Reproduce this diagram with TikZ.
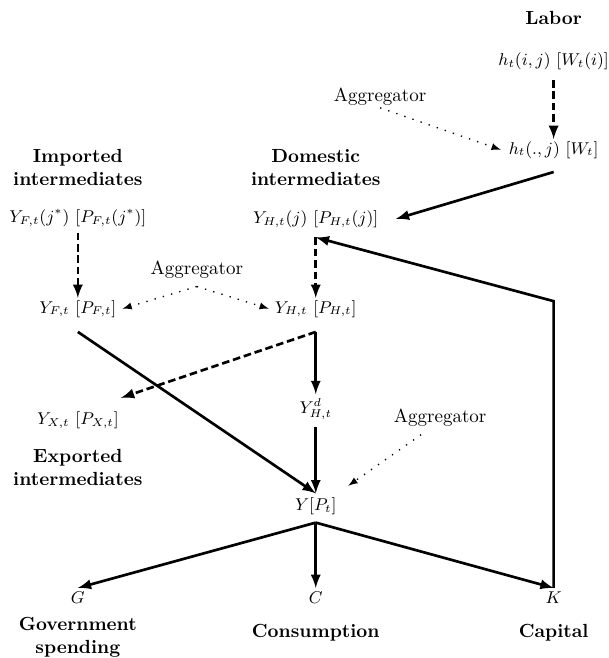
\documentclass[tikz,border=0pt]{standalone}
\begin{document}
\begin{tikzpicture}[>=latex,
  lbl/.style={inner sep=1pt},
  var/.style={inner sep=1pt, font=\small},
  ttl/.style={font=\bfseries, align=center},
  flow/.style={->, line width=1.4pt},
  dflow/.style={->, line width=1.4pt, dash pattern=on 4pt off 2pt},
  agg/.style={->, line width=0.7pt, dash pattern=on 0.7pt off 3.8pt}]
\useasboundingbox (-1.44,-1.11) rectangle (9.81,11.06);
\pgfmathsetmacro{\colm}{4.4}
\pgfmathsetmacro{\colr}{8.8}
\node[ttl] (labor) at (\colr,10.73) {Labor};
\node[var] (hij) at (\colr,9.92) {$h_t(i,j)\ [W_t(i)]$};
\node[var] (hj) at (\colr,8.29) {$h_t(.,j)\ [W_t]$};
\node[lbl] (agga) at (5.59,9.27) {Aggregator};
\node[ttl] (imp) at (0,7.96) {Imported\\intermediates};
\node[ttl] (dom) at (\colm,7.96) {Domestic\\intermediates};
\node[var] (yfj) at (0,7.03) {$Y_{F,t}(j^*)\ [P_{F,t}(j^*)]$};
\node[var] (yhj) at (\colm,7.01) {$Y_{H,t}(j)\ [P_{H,t}(j)]$};
\node[lbl] (aggb) at (2.20,6.07) {Aggregator};
\node[var] (yf) at (0,5.35) {$Y_{F,t}\ [P_{F,t}]$};
\node[var] (yh) at (\colm,5.35) {$Y_{H,t}\ [P_{H,t}]$};
\coordinate (kturn) at (\colr,5.49);
\node[var] (yd) at (\colm,3.50) {$Y^d_{H,t}$};
\node[var] (yx) at (0,3.29) {$Y_{X,t}\ [P_{X,t}]$};
\node[lbl] (aggc) at (6.70,3.33) {Aggregator};
\node[ttl] (exp) at (0,2.42) {Exported\\intermediates};
\node[var] (y) at (\colm,1.70) {$Y[P_t]$};
\node[var] (g) at (0,0) {$G$};
\node[var] (c) at (\colm,0) {$C$};
\node[var] (k) at (\colr,0) {$K$};
\node[ttl] (gov) at (0,-0.73) {Government\\spending};
\node[ttl] (cons) at (\colm,-0.65) {Consumption};
\node[ttl] (cap) at (\colr,-0.65) {Capital};
\draw [dflow] ([yshift=-4pt]hij.south) -- (hj.north);
\draw [agg] (agga.south) -- ([xshift=-3pt]hj.west);
\draw [flow] ([yshift=-6pt]hj.south) -- ([xshift=8pt]yhj.east);
\draw [dflow] ([yshift=-2pt]yfj.south) -- (yf.north);
\draw [dflow] ([yshift=-4pt]yhj.south) -- (yh.north);
\draw [agg] ([yshift=-3pt]aggb.south) -- ([xshift=2pt]yf.east);
\draw [agg] ([yshift=-3pt]aggb.south) -- ([xshift=-2pt]yh.west);
\draw [flow] ([yshift=-6.5pt]yf.south) -- ([yshift=1pt]y.north);
\draw [dflow] ([yshift=-6.5pt]yh.south) -- ([yshift=6pt]yx.north east);
\draw [flow] ([yshift=-6.5pt]yh.south) -- ([yshift=1pt]yd.north);
\draw [flow] ([yshift=-3pt]yd.south) -- ([yshift=1pt]y.north);
\draw [agg] ([shift={(-10pt,-3pt)}]aggc.south) -- ([shift={(5pt,5pt)}]y.north east);
\draw [flow] ([yshift=-3pt]y.south) -- ([yshift=1pt]g.north);
\draw [flow] ([yshift=-3pt]y.south) -- ([yshift=1pt]c.north);
\draw [flow] ([yshift=-3pt]y.south) -- ([yshift=1pt]k.north);
\draw [flow] ([yshift=1pt]k.north) -- (kturn) -- ([yshift=-4pt]yhj.south);
\end{tikzpicture}
\end{document}
